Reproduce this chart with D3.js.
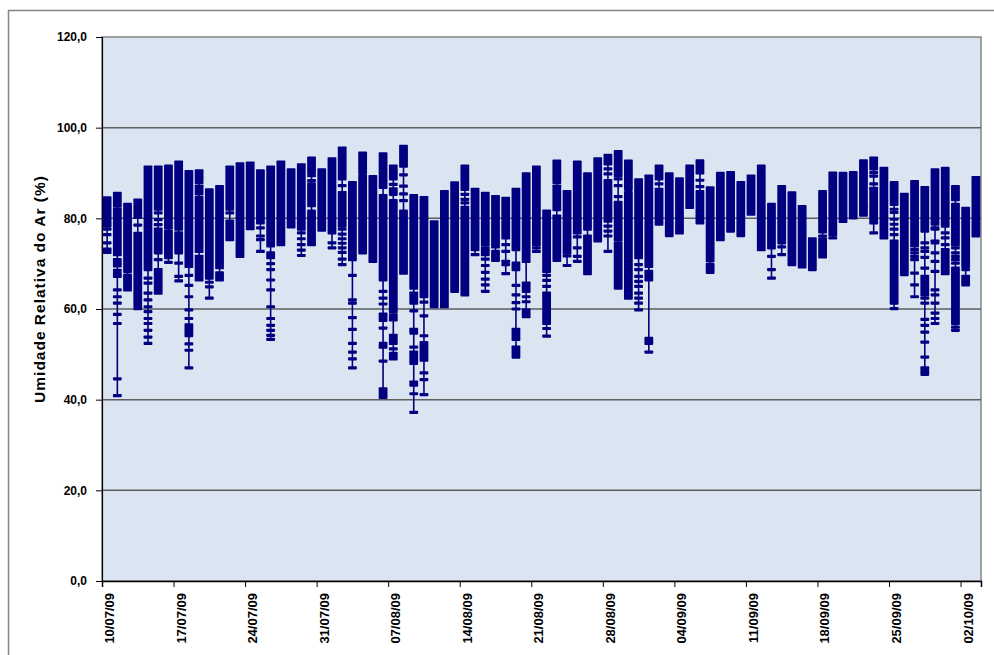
<!DOCTYPE html>
<html lang="pt">
	<head>
		<meta charset="utf-8">
		<title>Umidade Relativa do Ar</title>
		<script type="text/javascript" src="https://cdn.jsdelivr.net/npm/d3@7"></script>
		<style type="text/css">
body {
  margin: 0;
  background: #fff;
  font-family: "Liberation Sans", Arial, sans-serif;
}
.tick text {
  font-family: "Liberation Sans", Arial, sans-serif;
  font-weight: bold;
  fill: #000;
}
.label {
  font-family: "Liberation Sans", Arial, sans-serif;
  font-weight: bold;
  font-size: 15.5px;
  letter-spacing: 1px;
  fill: #000;
}
		</style>
	</head>
	<body>
		<script type="text/javascript">

			// one entry per day (dd/mm), 10/07/09 .. 03/10/09
			var days = [
				"10/07","11/07","12/07","13/07","14/07","15/07","16/07","17/07","18/07","19/07",
				"20/07","21/07","22/07","23/07","24/07","25/07","26/07","27/07","28/07","29/07",
				"30/07","31/07","01/08","02/08","03/08","04/08","05/08","06/08","07/08","08/08",
				"09/08","10/08","11/08","12/08","13/08","14/08","15/08","16/08","17/08","18/08",
				"19/08","20/08","21/08","22/08","23/08","24/08","25/08","26/08","27/08","28/08",
				"29/08","30/08","31/08","01/09","02/09","03/09","04/09","05/09","06/09","07/09",
				"08/09","09/09","10/09","11/09","12/09","13/09","14/09","15/09","16/09","17/09",
				"18/09","19/09","20/09","21/09","22/09","23/09","24/09","25/09","26/09","27/09",
				"28/09","29/09","30/09","01/10","02/10","03/10"
			];

			var tickLabels = ["10/07/09","17/07/09","24/07/09","31/07/09","07/08/09","14/08/09",
				"21/08/09","28/08/09","04/09/09","11/09/09","18/09/09","25/09/09","02/10/09"];

			var yTicks = [0, 20, 40, 60, 80, 100, 120];

			// readings per day: [high, low] = dense run of readings, number = single reading
			var readings = [
				[[84.5,78.3], 77.6, 76.4, 74.6, [73.2,72.5]],
				[[85.5,82.7], [82,72], [70.9,69.5], 68.5, [67.8,67.2], 64.2, 62.7, 61.3, 58.8, 56.8, 44.6, 40.9],
				[[83.1,68.3], [67.5,64.2]],
				[[84,80.2], 78.5, [76.7,60.1]],
				[[91.3,68.7], 66.8, 65.7, 63.5, 62, 60.5, 59.4, 57.9, 56.8, 55.3, 53.8, 52.4],
				[[91.3,82], 81.2, 79.7, 78.6, [77.6,72.4], 70.9, [68.7,63.5]],
				[[91.5,77.9], [77.2,71.3], 70.3],
				[[92.4,77.6], [76.8,72.4], 70.1, 67.2, 66.2],
				[[90.3,69.4], 67.4, 65.2, 62.7, 59.8, 57.9, [56.5,54.1], 52.3, 50.9, 47],
				[[90.5,87.9], [87.1,85.4], [84.6,72.7], [71.6,66.4]],
				[[86.3,66.8], 65.9, 64.9, 62.4],
				[[87,69.6], 69.1, [68,66.4]],
				[[91.3,82], 81.2, [79.4,75.3]],
				[[92,71.6]],
				[[92.2,77.7]],
				[[90.5,79], 77.9, 76.1, 75.3, 72.7],
				[[91.3,73.9], [72.4,71.3], 70, 68.7, 66.4, 64.2, 60.5, 57.9, 56.4, 55.3, 54.2, 53.3],
				[[92.4,74.2]],
				[[90.7,78.1]],
				[[91.8,77.6], 76.8, 75.5, 74.2, 73, 71.8],
				[[93.3,90.1], 89.4, 88.3, [87.6,82.8], [81.6,74.2]],
				[[90.7,77.4]],
				[[93.1,76.8], 74.6, 73.5],
				[[95.5,88.7], 87.2, [85.7,78.3], 77.6, 76.5, 75.5, 74.5, 73.5, 72.5, 71, 69.8],
				[[87.9,70.9], 67.4, 62, 61.3, 58.1, 55.5, 52.4, 50.5, 49, 47],
				[[94.4,90.1], [89.4,72.4]],
				[[89.2,70.5]],
				[[94.2,86.8], [85,66.4], 63.9, 62.4, 61.1, [58.9,57.5], 55.8, [52.4,51.6], 48.5, [42.4,40.5]],
				[[91.5,88.7], 87.5, [86.5,85.3], [83.9,59.4], [58.7,57.6], [54.2,52.4], 51.2, [50.2,49]],
				[[95.9,91.5], 89.6, 87.1, 85.4, 83.9, [81.6,67.9]],
				[[85,64.6], [63.5,61.3], 59.6, [55.5,54.7], 51.6, [50.5,48], [43.9,43.2], 41.3, 37.2],
				[[84.6,62.7], 61.5, 58.5, 54.1, [52.6,48.7], 45.9, 44.4, 41.1],
				[[79.2,60.5]],
				[[85.9,60.5]],
				[[87.8,63.9]],
				[[91.5,86.4], 85.3, 84.2, 83.4, [82.4,63.1]],
				[[86.4,73.1], 72],
				[[85.5,74.2], [73.5,72], 71, 69.6, 68.1, 66.6, 65.3, 63.9],
				[[84.8,74.2], 73.7, [72.7,70.7]],
				[[84.4,75.7], 74.2, 72.7, 70.5, 69.8, 67.8],
				[[86.4,73.1], [70.1,68.7], 65.2, 63.1, 61.4, 60, [55.5,53.3], [51.6,49.4]],
				[[89.8,70.5], [65.7,63.9], 62.7, 61.6, [59.8,58.3]],
				[[91.3,82.4], [81.8,74.2], 73.5, 72.7],
				[[81.6,68.7], 68.3, 67.4, 66.3, 65, [63.5,56.8], 55.7, 54],
				[[92.6,87.9], [87.1,81.9], [80.5,70.7]],
				[[85.9,72.4], 71.7, 69.6],
				[[92.4,76.8], 75.9, 73.5, 71.6, 70.5],
				[[89.8,77.6], [76.1,67.8]],
				[[93.1,75]],
				[[93.9,92], 90.9, 89.8, 88.3, [87.9,79.4], 78.3, 77.2, 76.1, 72.7],
				[[94.7,89.4], 88.7, 87.2, 84.8, [83.5,75.3], [74.6,64.6]],
				[[92.6,86.4], [85.7,62.4]],
				[[88.5,71.3], 69.8, 68.7, 67.2, 66.1, 65, 63.5, 62.4, 61.3, 59.8],
				[[89.3,78.3], [77.9,69.4], [68.3,66.4], [53.5,52.4], 50.5],
				[[91.5,88.7], 87.6, [86.4,78.7]],
				[[89.8,76.2]],
				[[88.7,76.8]],
				[[91.5,82.4]],
				[[92.7,90], 88.4, 87, [85.9,79]],
				[[86.7,75.8], [75.4,70.6], [69.8,68.1]],
				[[89.9,75.3]],
				[[90.1,77.2]],
				[[87.9,76.2]],
				[[89.3,80.9]],
				[[91.5,73.1]],
				[[83.1,73.5], 71.6, 68.7, 66.8],
				[[87,74.6], 73.7, 72],
				[[85.6,69.8]],
				[[82.6,69.3]],
				[[75.5,68.7]],
				[[85.9,77], 76.1, [75.5,71.5]],
				[[90,76.4], 75.7],
				[[89.9,79.3]],
				[[90.1,80.1]],
				[[92.7,82.7], [82.4,80.7]],
				[[93.3,90.9], 90.1, 89.3, 87.6, 86.6, [86.4,81.3], [80.7,79], 76.8],
				[[91,75.7]],
				[[87.9,83.1], 82, 81.3, 79.8, 78.7, 77.6, 76.4, [75,61.3], 60.1],
				[[85.3,67.6]],
				[[88.1,73.9], 73.1, 72.4, 71.6, 70.9, 67.9, 65.3, 62.7],
				[[86.8,77.2], 74.6, 73.5, 72.7, 71.4, 69, [67.2,63.1], 62.4, 61.3, 57.7, 56.4, 54.9, 52.7, 49.4, [47,45.6]],
				[[90.7,78.7], 77.9, 77.6, 75, 74.6, 72.4, 70.5, 68.3, 64.2, 63.1, 61.3, 59.1, 57.9, 56.8],
				[[91,78.3], 76.8, 75.7, 74.2, [73.1,67.8]],
				[[87,84.1], 83.1, [82.7,74.2], 73.5, 72.4, 71.6, 70.9, 70.1, [69,56.8], 56, 55.3],
				[[82.2,69.4], 68.7, [67.2,65.3]],
				[[89,76.1]]
			];

			var W = 994, H = 655;
			var plot = {left: 102, right: 981, top: 37, bottom: 581};
			var navy = "#000080";

			var parseDay = d3.timeParse("%d/%m/%Y");
			var dayDates = days.map(function(d) { return parseDay(d + "/2009"); });
			var tickDates = tickLabels.map(d3.timeParse("%d/%m/%y"));

			var svg = d3.select("body")
				.append("svg")
				.attr("width", W)
				.attr("height", H);

			// chart area frame (cropped)
			svg.append("path")
				.attr("d", "M8.5," + H + "V10.5H" + W)
				.attr("fill", "none")
				.attr("stroke", "#858585")
				.attr("stroke-width", 1.5);

			var x = d3.scaleTime()
				.domain([dayDates[0], d3.timeDay.offset(dayDates[dayDates.length - 1], 1)])
				.range([plot.left, plot.right]);
			var band = x(dayDates[1]) - x(dayDates[0]);

			var y = d3.scaleLinear()
				.domain([0, 120])
				.range([plot.bottom, plot.top]);

			svg.append("rect")
				.attr("x", plot.left)
				.attr("y", plot.top)
				.attr("width", plot.right - plot.left)
				.attr("height", plot.bottom - plot.top)
				.attr("fill", "#dbe5f1")
				.attr("stroke", "#858585")
				.attr("stroke-width", 1.5);

			// gridlines
			svg.selectAll(".grid")
				.data(yTicks.filter(function(d) { return d > 0 && d < 120; }))
				.enter()
				.append("line")
				.attr("x1", plot.left)
				.attr("x2", plot.right)
				.attr("y1", function(d) { return y(d); })
				.attr("y2", function(d) { return y(d); })
				.attr("stroke", "#5e5e5e")
				.attr("stroke-width", 1.5);

			// y axis
			var yAxis = d3.axisLeft(y)
				.tickValues(yTicks)
				.tickSize(6)
				.tickPadding(9)
				.tickFormat(function(d) { return d3.format(".1f")(d).replace(".", ","); });

			var gy = svg.append("g")
				.attr("transform", "translate(" + plot.left + ",0)")
				.call(yAxis);
			gy.select(".domain").attr("stroke", "#000").attr("stroke-width", 1.2);
			gy.selectAll(".tick line").attr("stroke", "#000");
			gy.selectAll(".tick text").style("font-size", "12px");

			// x axis
			var xAxis = d3.axisBottom(x)
				.tickValues(tickDates)
				.tickSize(6)
				.tickFormat(function(d, i) { return tickLabels[i]; });

			var gx = svg.append("g")
				.attr("transform", "translate(0," + plot.bottom + ")")
				.call(xAxis);
			gx.select(".domain").attr("stroke", "#000").attr("stroke-width", 1.5);
			gx.selectAll(".tick line").attr("stroke", "#000");
			gx.selectAll(".tick text")
				.style("font-size", "13px")
				.attr("text-anchor", "end")
				.attr("dy", null)
				.attr("y", 0)
				.attr("transform", "translate(11.5,12) rotate(-90)");

			svg.append("text")
				.attr("class", "label")
				.attr("transform", "translate(45,289) rotate(-90)")
				.attr("text-anchor", "middle")
				.text("Umidade Relativa do Ar (%)");

			// daily high-low lines with every reading as a dash
			var dayG = svg.selectAll(".day")
				.data(readings)
				.enter()
				.append("g")
				.attr("transform", function(d, i) {
					return "translate(" + (x(dayDates[i]) + band / 2) + ",0)";
				});

			dayG.append("line")
				.attr("y1", function(d) {
					return y(d3.max(d, function(r) { return Array.isArray(r) ? r[0] : r; }));
				})
				.attr("y2", function(d) {
					return y(d3.min(d, function(r) { return Array.isArray(r) ? r[1] : r; }));
				})
				.attr("stroke", navy)
				.attr("stroke-width", 1.6);

			dayG.selectAll("rect")
				.data(function(d) {
					return d.map(function(r) { return Array.isArray(r) ? r : [r, r]; });
				})
				.enter()
				.append("rect")
				.attr("x", -4.4)
				.attr("width", 8.8)
				.attr("y", function(r) { return y(r[0]) - 1.6; })
				.attr("height", function(r) { return y(r[1]) - y(r[0]) + 3.2; })
				.attr("rx", 0.8)
				.attr("fill", navy);

		</script>
	</body>
</html>
